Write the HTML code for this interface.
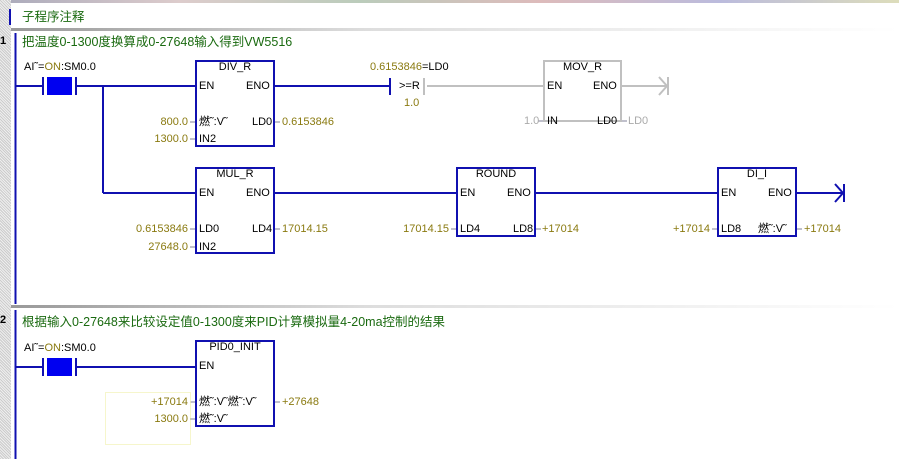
<!DOCTYPE html>
<html><head><meta charset="utf-8"><style>
body{margin:0;width:899px;height:459px;overflow:hidden;background:#fff;position:relative;font-family:"Liberation Sans","Noto Sans CJK SC",sans-serif;}
.t{position:absolute;font-size:11px;line-height:12px;white-space:nowrap;color:#000;}
.y{color:#8a7a10}
.g{color:#aaa}
.c{position:absolute;font-size:12.5px;color:#1a6a10;white-space:nowrap;line-height:14px}
.box{position:absolute;border:2px solid #1010b0;box-sizing:border-box}
.gbox{position:absolute;border:2px solid #c0c0c0;box-sizing:border-box}
</style></head><body>
<div style="position:absolute;left:0;top:0;width:899px;height:3px;background:linear-gradient(90deg,#aab 0,#dcc 20%,#bcb 40%,#dbb 60%,#bbd 80%,#ddb 100%)"></div>
<div style="position:absolute;left:0;top:0;width:11px;height:459px;background:repeating-linear-gradient(45deg,#ccc 0 1px,#eee 1px 2px)"></div>
<div style="position:absolute;left:11px;top:28px;width:888px;height:3px;background:linear-gradient(90deg,#999,#ddd 40%,#fff)"></div>
<div style="position:absolute;left:11px;top:305px;width:888px;height:3px;background:linear-gradient(90deg,#999,#ddd 40%,#fff)"></div>
<div style="position:absolute;left:9px;top:9px;width:2px;height:16px;background:#1010b0"></div>
<div class="c" style="left:22px;top:10px">子程序注释</div>
<div class="t" style="left:0;top:35px;font-weight:bold">1</div>
<div class="t" style="left:0;top:314px;font-weight:bold">2</div>
<div class="c" style="left:22px;top:35px">把温度0-1300度换算成0-27648输入得到VW5516</div>
<div class="c" style="left:22px;top:315px">根据输入0-27648来比较设定值0-1300度来PID计算模拟量4-20ma控制的结果</div>
<svg style="position:absolute;left:0;top:0" width="899" height="459">
<g stroke="#1010b0" stroke-width="2" fill="none">
<line x1="15.5" y1="33" x2="15.5" y2="304"/>
<line x1="15.5" y1="310" x2="15.5" y2="459"/>
<line x1="15" y1="86" x2="43" y2="86"/><line x1="43" y1="77" x2="43" y2="95"/>
<line x1="76" y1="77" x2="76" y2="95"/><line x1="76" y1="86" x2="196" y2="86"/>
<line x1="103" y1="86" x2="103" y2="193"/><line x1="103" y1="193" x2="196" y2="193"/>
<line x1="274" y1="86" x2="390" y2="86"/><line x1="390" y1="78" x2="390" y2="95"/>
<line x1="274" y1="193" x2="457" y2="193"/><line x1="535" y1="193" x2="718" y2="193"/>
<line x1="796" y1="193" x2="843" y2="193"/><path d="M835 184 L843 193 L835 202 M844 184 L844 202"/>
<line x1="15" y1="367" x2="43" y2="367"/><line x1="43" y1="358" x2="43" y2="376"/>
<line x1="76" y1="358" x2="76" y2="376"/><line x1="76" y1="367" x2="196" y2="367"/>
</g>
<rect x="47" y="77" width="25" height="18" fill="#0000f0"/>
<rect x="47" y="358" width="25" height="18" fill="#0000f0"/>
<g stroke="#c0c0c0" stroke-width="2" fill="none">
<line x1="424" y1="78" x2="424" y2="95"/><line x1="427" y1="86" x2="544" y2="86"/>
<line x1="621" y1="86" x2="667" y2="86"/><path d="M659 77 L667 86 L659 95 M668 77 L668 95"/>
</g>
<g stroke="#aab" stroke-width="1.5">
<line x1="190" y1="122" x2="196" y2="122"/><line x1="190" y1="139" x2="196" y2="139"/>
<line x1="274" y1="122" x2="280" y2="122"/>
<line x1="190" y1="229" x2="196" y2="229"/><line x1="190" y1="247" x2="196" y2="247"/>
<line x1="274" y1="229" x2="280" y2="229"/>
<line x1="451" y1="229" x2="457" y2="229"/><line x1="535" y1="229" x2="541" y2="229"/>
<line x1="712" y1="229" x2="718" y2="229"/><line x1="796" y1="229" x2="802" y2="229"/>
<line x1="190" y1="402" x2="196" y2="402"/><line x1="190" y1="419" x2="196" y2="419"/>
<line x1="274" y1="402" x2="280" y2="402"/>
<line x1="538" y1="121" x2="544" y2="121"/><line x1="621" y1="121" x2="627" y2="121"/>
</g>
<rect x="105.5" y="392.5" width="85" height="52" fill="none" stroke="#ee9" stroke-dasharray="1,1"/>
</svg>
<div class="t" style="left:24px;top:61px">AI˜=<span class="y">ON</span>:SM0.0</div>
<div class="t" style="left:24px;top:342px">AI˜=<span class="y">ON</span>:SM0.0</div>
<div class="t" style="left:370px;top:61px"><span class="y">0.6153846</span>=LD0</div>
<div class="t" style="left:399px;top:80px">&gt;=R</div>
<div class="t y" style="left:404px;top:97px">1.0</div>
<div class="box" style="left:195px;top:60px;width:80px;height:87px"></div>
<div class="t" style="left:195px;top:61px;width:80px;text-align:center">DIV_R</div>
<div class="t" style="left:199px;top:80px">EN</div><div class="t" style="left:246px;top:80px">ENO</div>
<div class="t" style="left:199px;top:116px">燃˜:V˜</div><div class="t" style="left:252px;top:116px">LD0</div>
<div class="t" style="left:199px;top:133px">IN2</div>
<div class="t y" style="left:120px;top:116px;width:68px;text-align:right">800.0</div>
<div class="t y" style="left:120px;top:133px;width:68px;text-align:right">1300.0</div>
<div class="t y" style="left:282px;top:116px">0.6153846</div>
<div class="gbox" style="left:543px;top:60px;width:79px;height:62px"></div>
<div class="t" style="left:543px;top:61px;width:79px;text-align:center">MOV_R</div>
<div class="t" style="left:547px;top:80px">EN</div><div class="t" style="left:593px;top:80px">ENO</div>
<div class="t" style="left:547px;top:115px">IN</div><div class="t" style="left:597px;top:115px">LD0</div>
<div class="t g" style="left:524px;top:115px">1.0</div><div class="t g" style="left:628px;top:115px">LD0</div>
<div class="box" style="left:195px;top:167px;width:80px;height:87px"></div>
<div class="t" style="left:195px;top:168px;width:80px;text-align:center">MUL_R</div>
<div class="t" style="left:199px;top:187px">EN</div><div class="t" style="left:246px;top:187px">ENO</div>
<div class="t" style="left:199px;top:223px">LD0</div><div class="t" style="left:252px;top:223px">LD4</div>
<div class="t" style="left:199px;top:241px">IN2</div>
<div class="t y" style="left:110px;top:223px;width:78px;text-align:right">0.6153846</div>
<div class="t y" style="left:110px;top:241px;width:78px;text-align:right">27648.0</div>
<div class="t y" style="left:282px;top:223px">17014.15</div>
<div class="box" style="left:456px;top:167px;width:80px;height:70px"></div>
<div class="t" style="left:456px;top:168px;width:80px;text-align:center">ROUND</div>
<div class="t" style="left:460px;top:187px">EN</div><div class="t" style="left:507px;top:187px">ENO</div>
<div class="t" style="left:460px;top:223px">LD4</div><div class="t" style="left:513px;top:223px">LD8</div>
<div class="t y" style="left:394px;top:223px;width:55px;text-align:right">17014.15</div>
<div class="t y" style="left:542px;top:223px">+17014</div>
<div class="box" style="left:717px;top:167px;width:80px;height:70px"></div>
<div class="t" style="left:717px;top:168px;width:80px;text-align:center">DI_I</div>
<div class="t" style="left:721px;top:187px">EN</div><div class="t" style="left:768px;top:187px">ENO</div>
<div class="t" style="left:721px;top:223px">LD8</div><div class="t" style="left:758px;top:223px">燃˜:V˜</div>
<div class="t y" style="left:657px;top:223px;width:53px;text-align:right">+17014</div>
<div class="t y" style="left:804px;top:223px">+17014</div>
<div class="box" style="left:195px;top:340px;width:80px;height:87px"></div>
<div class="t" style="left:195px;top:341px;width:80px;text-align:center">PID0_INIT</div>
<div class="t" style="left:199px;top:360px">EN</div>
<div class="t" style="left:199px;top:396px">燃˜:V˜燃˜:V˜</div>
<div class="t" style="left:199px;top:413px">燃˜:V˜</div>
<div class="t y" style="left:120px;top:396px;width:68px;text-align:right">+17014</div>
<div class="t y" style="left:120px;top:413px;width:68px;text-align:right">1300.0</div>
<div class="t y" style="left:282px;top:396px">+27648</div>
</body></html>
